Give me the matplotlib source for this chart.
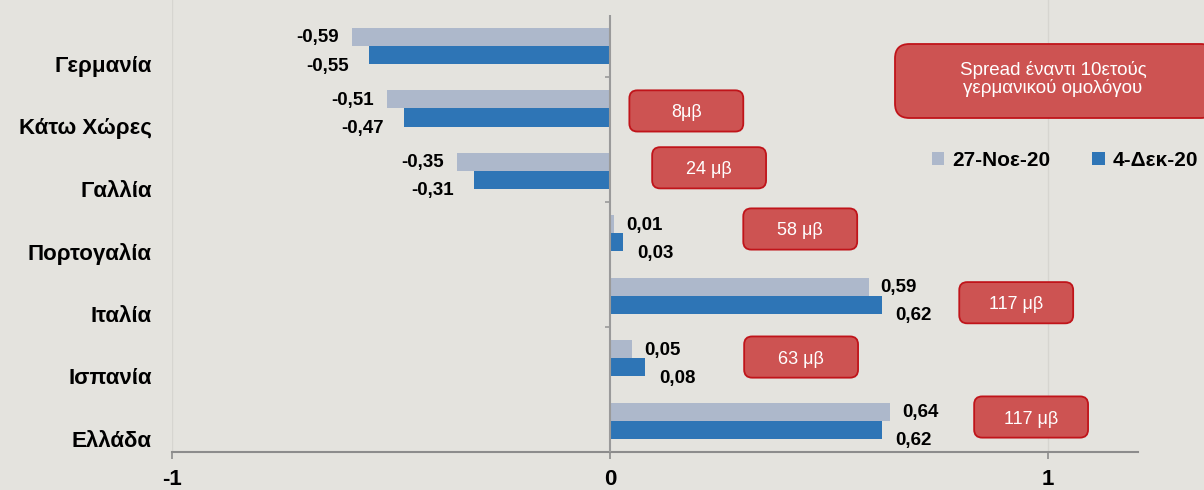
import matplotlib
matplotlib.use("Agg")
import matplotlib.pyplot as plt
from matplotlib.patches import FancyBboxPatch
from matplotlib.transforms import ScaledTranslation
import numpy as np

countries = ["Γερμανία", "Κάτω Χώρες", "Γαλλία", "Πορτογαλία", "Ιταλία", "Ισπανία", "Ελλάδα"]
series_names = ["27-Νοε-20", "4-Δεκ-20"]
nov27 = [-0.59, -0.51, -0.35, 0.01, 0.59, 0.05, 0.64]
dec4 = [-0.55, -0.47, -0.31, 0.03, 0.62, 0.08, 0.62]
spread_labels = ["", "8μβ", "24 μβ", "58 μβ", "117 μβ", "63 μβ", "117 μβ"]
xticks = [-1, 0, 1]
xtick_labels = ["-1", "0", "1"]
title_box = "Spread έναντι 10ετούς\nγερμανικού ομολόγου"

BG = "#E4E3DE"
GRAY = "#ADB8CB"
BLUE = "#2E75B6"
RED = "#CD5352"
RED_EDGE = "#C0141A"
FONT = ["Liberation Sans", "DejaVu Sans"]
plt.rcParams["font.family"] = FONT

fig = plt.figure(figsize=(12.04, 4.90), dpi=100, facecolor=BG)
ax = fig.add_axes([172 / 1204, 1 - 452 / 490, (1138 - 172) / 1204, 452 / 490])
ax.set_facecolor(BG)

y = np.arange(len(countries))
h = 0.29
ax.barh(y - h / 2, nov27, height=h, color=GRAY, label=series_names[0], zorder=3)
ax.barh(y + h / 2, dec4, height=h, color=BLUE, label=series_names[1], zorder=3)

ax.set_xlim(-1, 1.205)
ax.set_ylim(6.5, -0.736)

def fmt(v):
    return f"{v:.2f}".replace(".", ",")

dpi_tr = fig.dpi_scale_trans
for i in range(len(countries)):
    for k, vals in enumerate((nov27, dec4)):
        v = vals[i]
        yy = y[i] - h / 2 if k == 0 else y[i] + h / 2
        dy = 1 if k == 0 else 11
        if v >= 0:
            dx = 12 if k == 0 else 14
            ha = "left"
        else:
            dx = -(13 if k == 0 else 20)
            ha = "right"
        tr = ax.transData + ScaledTranslation(dx / 100, -dy / 100, dpi_tr)
        ax.text(v, yy, fmt(v), transform=tr, ha=ha, va="center",
                fontsize=13.5, fontweight="bold", color="black", zorder=5)

for s in ["top", "right", "left"]:
    ax.spines[s].set_visible(False)
ax.spines["bottom"].set_color("#8C8C8C")
ax.spines["bottom"].set_linewidth(1.5)
ax.set_xticks(xticks)
ax.set_xticklabels(xtick_labels, fontsize=16, fontweight="bold")
ax.tick_params(axis="x", length=5, color="#8C8C8C", width=1.2, pad=7)
for xv in (-1, 1):
    ax.axvline(xv, color="#D6D5D0", lw=1, zorder=1)

ax.set_yticks(y)
ax.set_yticklabels(countries, fontsize=16, fontweight="bold")
ax.tick_params(axis="y", length=0, pad=14.5)
for lab in ax.get_yticklabels():
    lab.set_transform(lab.get_transform() + ScaledTranslation(0, -18 / 100, dpi_tr))

# zero axis (plot area) with ticks every two groups
ax.vlines(0, -0.5, 6.5, color="#9A9A9A", lw=1.5, zorder=4)
ax.hlines([0.5, 2.5, 4.5], -0.012, 0, color="#9A9A9A", lw=1.2, zorder=4)

# spread boxes
box_x = [None, 0.174, 0.226, 0.434, 0.927, 0.436, 0.961]
box_dy = [0, 0.04, -0.05, -0.07, 0.11, -0.02, -0.06]
bw, bh = 0.26, 0.66
xr = 8 / 438
for i, lab in enumerate(spread_labels):
    if not lab:
        continue
    cx, cy = box_x[i], y[i] + box_dy[i]
    p = FancyBboxPatch((cx - bw / 2, cy - bh / 2), bw, bh,
                       boxstyle=f"round,pad=0,rounding_size={xr}",
                       mutation_aspect=(8 / 62.5) / xr,
                       fc=RED, ec=RED_EDGE, lw=1.3, transform=ax.transData, zorder=6)
    ax.add_patch(p)
    ax.text(cx, cy, lab, ha="center", va="center_baseline", color="white", fontsize=13,
            zorder=7)

# big title box (figure coords)
bx0, bx1, by0, by1 = 895 / 1204, 1215 / 1204, 1 - 118 / 490, 1 - 44 / 490
big = FancyBboxPatch((bx0, by0), bx1 - bx0, by1 - by0,
                     boxstyle="round,pad=0,rounding_size=0.012",
                     mutation_aspect=1204 / 490,
                     fc=RED, ec=RED_EDGE, lw=1.3, transform=fig.transFigure, zorder=6)
fig.patches.append(big)
fig.text(1053 / 1204, 1 - 79 / 490, title_box, ha="center", va="center", color="white",
         fontsize=13.5, linespacing=1.05, zorder=7)

fig.legend(loc="center", bbox_to_anchor=(1065 / 1204, 1 - 160 / 490), ncol=2,
           frameon=False, handlelength=0.6, handleheight=0.6, handletextpad=0.4,
           columnspacing=2.0, prop={"weight": "bold", "size": 15})

fig.savefig("out.png", dpi=100, facecolor=BG)
